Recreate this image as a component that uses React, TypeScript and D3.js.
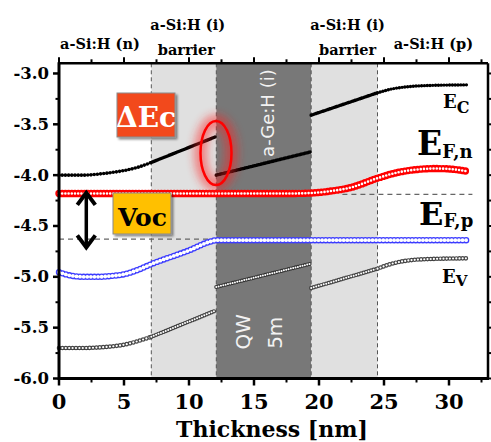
import React from "react";
import * as d3 from "d3";

const W = 491;
const H = 442;

// Axis ticks
const xTicks = [0, 5, 10, 15, 20, 25, 30];
const xMinorTicks = [2.5, 7.5, 12.5, 17.5, 22.5, 27.5, 32.5];
const yTicks = [-3.0, -3.5, -4.0, -4.5, -5.0, -5.5, -6.0];
const yMinorTicks = [-3.25, -3.75, -4.25, -4.75, -5.25, -5.75];

// Layer stack (nm)
const barrier1 = [7.1, 12.1];
const well = [12.1, 19.4];
const barrier2 = [19.4, 24.5];

// Layer names above the frame: [x centre nm, line, text]
const layerLabels: [number, number, string][] = [
  [3.15, 1, "a-Si:H (n)"],
  [9.9, 0, "a-Si:H (i)"],
  [9.8, 1, "barrier"],
  [22.2, 0, "a-Si:H (i)"],
  [22.2, 1, "barrier"],
  [28.8, 1, "a-Si:H (p)"],
];

// Conduction band edge Ec (eV), one array per layer
const ecN: [number, number][] = [[0, -4.0], [1, -4.0], [2, -4.0], [3, -3.99], [4, -3.975], [5, -3.955], [6, -3.925], [7.1, -3.875]];
const ecB1: [number, number][] = [[7.1, -3.875], [12.1, -3.62]];
const ecQW: [number, number][] = [[12.1, -4.0], [19.4, -3.77]];
const ecB2: [number, number][] = [[19.4, -3.41], [24.5, -3.19]];
const ecP: [number, number][] = [[24.5, -3.19], [25.5, -3.155], [26.7, -3.132], [28.5, -3.118], [31.5, -3.112]];

// Valence band edge Ev (eV)
const evN: [number, number][] = [[0, -5.7], [2, -5.7], [3, -5.695], [4, -5.685], [5, -5.668], [6, -5.635], [7.1, -5.59]];
const evB1: [number, number][] = [[7.1, -5.59], [12.1, -5.33]];
const evQW: [number, number][] = [[12.1, -5.1], [19.4, -4.87]];
const evB2: [number, number][] = [[19.4, -5.11], [24.5, -4.92]];
const evP: [number, number][] = [[24.5, -4.92], [25.5, -4.875], [26.7, -4.842], [28.5, -4.825], [31.5, -4.818]];

// Quasi-Fermi levels (eV)
const efn: [number, number][] = [[0, -4.18], [18, -4.18], [19.5, -4.175], [21, -4.155], [22.5, -4.12], [24.5, -4.03], [26, -3.975], [27.5, -3.945], [29, -3.935], [30.5, -3.945], [31.5, -3.965]];
const efp: [number, number][] = [[0, -4.955], [1, -4.99], [2, -5.0], [3, -5.0], [4, -4.992], [5, -4.975], [6, -4.935], [7.1, -4.875], [10, -4.74], [11.6, -4.655], [12.1, -4.64], [31.5, -4.64]];

// Reference levels and Voc arrow
const efnLevel = -4.19;
const efpLevel = -4.63;
const vocArrow = { x: 2.1, top: -4.165, bottom: -4.72 };

const SERIF = "'DejaVu Serif', serif";
const SANS = "'DejaVu Sans', sans-serif";

export default function App() {
  const x = d3.scaleLinear().domain([0, 33]).range([59, 488]);
  const y = d3.scaleLinear().domain([-6.0, -2.9]).range([378.5, 63.3]);
  const line = d3
    .line<[number, number]>()
    .x((d) => x(d[0]))
    .y((d) => y(d[1]))
    .curve(d3.curveMonotoneX);

  const top = y(-2.9);
  const bottom = y(-6.0);
  const left = x(0);
  const right = x(33);

  const dots = (data: [number, number][], color: string, size: number, gap: number, key: string) => (
    <path key={key} d={line(data) || ""} fill="none" stroke={color} strokeWidth={size}
      strokeLinecap="round" strokeDasharray={`0 ${gap}`} />
  );
  const rings = (data: [number, number][], color: string, outer: number, inner: number, gap: number, key: string, fillColor = "#fff") => (
    <g key={key}>
      <path d={line(data) || ""} fill="none" stroke={color} strokeWidth={outer}
        strokeLinecap="round" strokeDasharray={`0 ${gap}`} />
      <path d={line(data) || ""} fill="none" stroke={fillColor} strokeWidth={inner}
        strokeLinecap="round" strokeDasharray={`0 ${gap}`} />
    </g>
  );

  const ax = x(vocArrow.x);
  const ay1 = y(vocArrow.top);
  const ay2 = y(vocArrow.bottom);

  return (
    <svg width={W} height={H} style={{ position: "absolute", left: 0, top: 0, background: "#fff" }}>
      <defs>
        <filter id="glow" x="-1" y="-1" width="3" height="3">
          <feGaussianBlur stdDeviation="4.5" />
        </filter>
        <filter id="shadow" x="-0.2" y="-0.2" width="1.5" height="1.5">
          <feDropShadow dx="2" dy="2" stdDeviation="1.2" floodColor="#000" floodOpacity="0.45" />
        </filter>
      </defs>

      {/* layer shading */}
      <rect x={x(barrier1[0])} y={top} width={x(barrier1[1]) - x(barrier1[0])} height={bottom - top} fill="#e0e0e0" />
      <rect x={x(well[0])} y={top} width={x(well[1]) - x(well[0])} height={bottom - top} fill="#787878" />
      <rect x={x(barrier2[0])} y={top} width={x(barrier2[1]) - x(barrier2[0])} height={bottom - top} fill="#e0e0e0" />
      {[barrier1[0], well[0], well[1], barrier2[1]].map((v, i) => (
        <line key={i} x1={x(v)} x2={x(v)} y1={top} y2={bottom} stroke="#555" strokeWidth={1} strokeDasharray="4 3" />
      ))}

      {/* reference levels */}
      <line x1={x(0)} x2={x(12.1)} y1={y(efpLevel)} y2={y(efpLevel)} stroke="#666" strokeWidth={1.2} strokeDasharray="5 4" />
      <line x1={x(21.8)} x2={x(31.8)} y1={y(efnLevel)} y2={y(efnLevel)} stroke="#666" strokeWidth={1.2} strokeDasharray="5 4" />

      {/* well labels */}
      <text transform={`translate(274,${y(-3.39)}) rotate(-90)`} textAnchor="middle" fontFamily={SANS} fontSize={18} fill="#f2f2f2">a-Ge:H (i)</text>
      <text transform={`translate(250,${y(-5.54)}) rotate(-90)`} textAnchor="middle" fontFamily={SANS} fontSize={20} fill="#f2f2f2">QW</text>
      <text transform={`translate(282,${y(-5.55)}) rotate(-90)`} textAnchor="middle" fontFamily={SANS} fontSize={20} fill="#f2f2f2">5m</text>

      {/* Ev */}
      {rings(evN, "#444", 4.6, 2.2, 3.4, "evN")}
      {rings(evB1, "#444", 4.4, 2.0, 2.6, "evB1")}
      {rings(evQW, "#333", 4.2, 2.0, 2.4, "evQW")}
      {rings(evB2, "#444", 4.4, 2.0, 2.6, "evB2")}
      {rings(evP, "#444", 4.6, 2.2, 3.2, "evP")}

      {/* Ef,p */}
      {rings(efp, "#3c3cff", 6.4, 3.8, 3.6, "efp")}

      {/* Ec */}
      {dots(ecN, "#000", 3.6, 3.2, "ecN")}
      {dots(ecB1, "#000", 3.6, 1.4, "ecB1")}
      {dots(ecQW, "#000", 3.6, 1.4, "ecQW")}
      {dots(ecB2, "#000", 3.6, 1.4, "ecB2")}
      {dots(ecP, "#000", 3.4, 2.8, "ecP")}

      {/* Ef,n */}
      {rings(efn, "#ff0000", 7.4, 2.6, 3.2, "efn")}

      {/* band offset marker */}
      <ellipse cx={216} cy={153} rx={15.5} ry={32} fill="none" stroke="#ff2020" strokeWidth={13} opacity={0.5} filter="url(#glow)" />
      <ellipse cx={216} cy={153} rx={15.5} ry={32} fill="none" stroke="#ff0000" strokeWidth={2.5} />

      {/* ΔEc badge */}
      <rect x={117} y={93} width={58} height={44} fill="#f24a1e" stroke="#8a8a8a" strokeWidth={1} filter="url(#shadow)" />
      <text x={146} y={127} textAnchor="middle" fontFamily={SERIF} fontWeight="bold" fontSize={28} fill="#fff">ΔEc</text>

      {/* Voc badge and arrow */}
      <rect x={113} y={193} width={58} height={41} fill="#ffc000" stroke="#8a8a8a" strokeWidth={1} filter="url(#shadow)" />
      <text x={142.5} y={225.5} textAnchor="middle" fontFamily={SERIF} fontWeight="bold" fontSize={25} fill="#000">Voc</text>
      <line x1={ax} x2={ax} y1={ay1 + 3} y2={ay2 - 3} stroke="#000" strokeWidth={3.5} />
      <path d={`M${ax - 9},${ay1 + 13} L${ax},${ay1 + 1} L${ax + 9},${ay1 + 13}`} fill="none" stroke="#000" strokeWidth={4} />
      <path d={`M${ax - 9},${ay2 - 13} L${ax},${ay2 - 1} L${ax + 9},${ay2 - 13}`} fill="none" stroke="#000" strokeWidth={4} />

      {/* band labels */}
      <text x={443} y={108} fontFamily={SERIF} fontWeight="bold" fontSize={18} fill="#000">E<tspan dy={5} fontSize={16}>C</tspan></text>
      <text x={417} y={155} fontFamily={SERIF} fontWeight="bold" fontSize={33} fill="#000">E<tspan dy={3} fontSize={18}>F,n</tspan></text>
      <text x={419} y={225} fontFamily={SERIF} fontWeight="bold" fontSize={32} fill="#000">E<tspan dy={2} fontSize={18}>F,p</tspan></text>
      <text x={442} y={282.5} fontFamily={SERIF} fontWeight="bold" fontSize={18} fill="#000">E<tspan dy={3} fontSize={15}>V</tspan></text>

      {/* frame and ticks */}
      <line x1={left} x2={right} y1={top} y2={top} stroke="#000" strokeWidth={2.5} />
      <line x1={right} x2={right} y1={top} y2={bottom} stroke="#000" strokeWidth={2.5} />
      <line x1={left} x2={right + 1} y1={bottom} y2={bottom} stroke="#000" strokeWidth={3} />
      <line x1={left} x2={left} y1={top - 1} y2={bottom + 1.5} stroke="#000" strokeWidth={3} />
      {xTicks.map((t) => (
        <g key={"xt" + t}>
          <line x1={x(t)} x2={x(t)} y1={bottom} y2={bottom + 7} stroke="#000" strokeWidth={2.5} />
          <line x1={x(t)} x2={x(t)} y1={top} y2={top - 6} stroke="#000" strokeWidth={2} />
          <text x={x(t)} y={409} textAnchor="middle" fontFamily={SERIF} fontWeight="bold" fontSize={21} fill="#000">{t}</text>
        </g>
      ))}
      {xMinorTicks.map((t) => (
        <g key={"xm" + t}>
          <line x1={x(t)} x2={x(t)} y1={bottom} y2={bottom + 4} stroke="#000" strokeWidth={2} />
          <line x1={x(t)} x2={x(t)} y1={top} y2={top - 4} stroke="#000" strokeWidth={2} />
        </g>
      ))}
      {yTicks.map((t) => (
        <g key={"yt" + t}>
          <line x1={left - 6} x2={left} y1={y(t)} y2={y(t)} stroke="#000" strokeWidth={2.5} />
          <line x1={right} x2={right + 4} y1={y(t)} y2={y(t)} stroke="#000" strokeWidth={2} />
          <text x={49} y={y(t) + 5.5} textAnchor="end" fontFamily={SERIF} fontWeight="bold" fontSize={16.5} fill="#000">{t.toFixed(1)}</text>
        </g>
      ))}
      {yMinorTicks.map((t) => (
        <g key={"ym" + t}>
          <line x1={left - 3.5} x2={left} y1={y(t)} y2={y(t)} stroke="#000" strokeWidth={2} />
          <line x1={right} x2={right + 3} y1={y(t)} y2={y(t)} stroke="#000" strokeWidth={2} />
        </g>
      ))}

      {/* layer names */}
      {layerLabels.map(([c, row, s], i) => (
        <text key={"ll" + i} x={x(c)} y={row === 0 ? 30 : 49 + (s === "barrier" ? 6 : 0)} textAnchor="middle"
          fontFamily={SERIF} fontWeight="bold" fontSize={14.5} fill="#000">{s}</text>
      ))}

      {/* axis title */}
      <text x={272} y={437} textAnchor="middle" fontFamily={SERIF} fontWeight="bold" fontSize={22} fill="#000">Thickness [nm]</text>
    </svg>
  );
}
